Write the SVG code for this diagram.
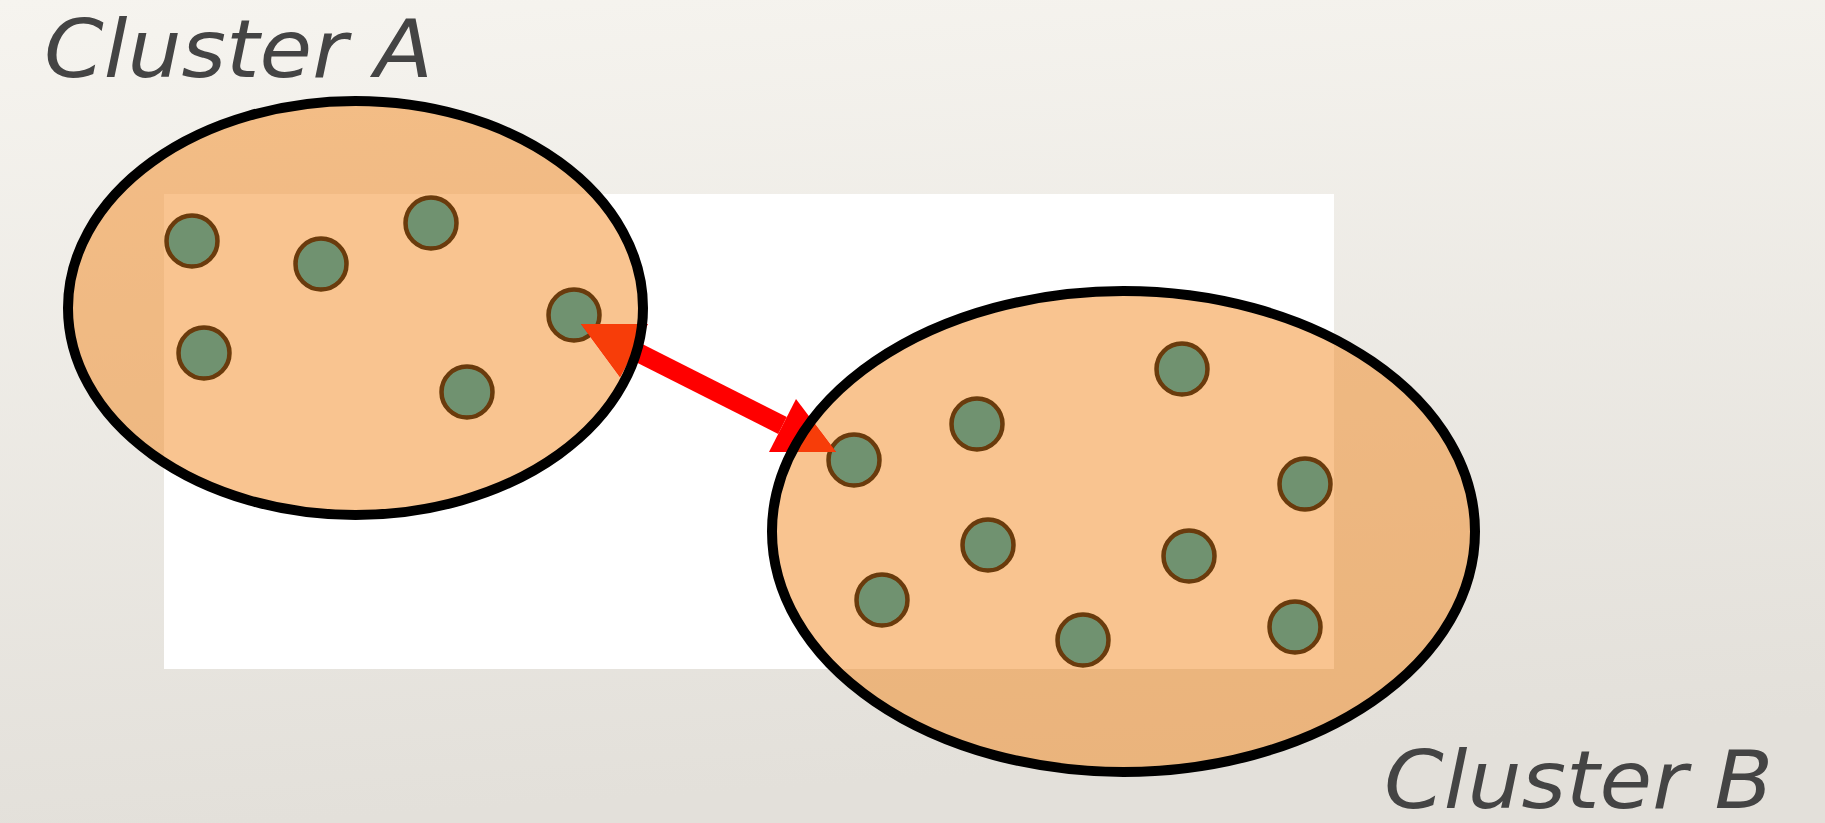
<svg xmlns="http://www.w3.org/2000/svg" width="1825" height="823" viewBox="0 0 1825 823">
  <defs>
    <linearGradient id="paper" x1="0" y1="0" x2="0.15" y2="1">
      <stop offset="0" stop-color="#F6F4EF"/>
      <stop offset="1" stop-color="#E3E0DA"/>
    </linearGradient>
    <filter id="soft" x="-20%" y="-20%" width="140%" height="140%">
      <feGaussianBlur stdDeviation="0.7"/>
    </filter>
    <clipPath id="insideA"><ellipse cx="355.5" cy="308" rx="287.5" ry="207"/></clipPath>
    <clipPath id="insideB"><ellipse cx="1123.5" cy="531.5" rx="351.5" ry="240.5"/></clipPath>
  </defs>
  <style>
    .label { font-family: "DejaVu Sans", Verdana, sans-serif; font-style: italic; font-size: 81px; fill: #444444; }
    .cfill { fill: rgb(243,130,20); fill-opacity: 0.47; stroke: none; }
    .cline { fill: none; stroke: #000000; stroke-width: 10; }
    .dot { fill: #70926F; stroke: #6A3A0A; stroke-width: 4.5; }
    .arrow-red { fill: #FF0000; }
    .arrow-tint { fill: #F73D09; }
    .shaft { stroke-width: 19; fill: none; }
  </style>

  <rect x="0" y="0" width="1825" height="823" fill="url(#paper)"/>
  <rect x="164" y="194" width="1170" height="475" fill="#FFFFFF"/>

  <g transform="translate(44,77) scale(1.055,1)">
    <text class="label" x="0" y="0">Cluster A</text>
  </g>
  <g transform="translate(1384,808) scale(1.055,1)">
    <text class="label" x="0" y="0">Cluster B</text>
  </g>

  <g id="clusterA">
    <ellipse class="cfill" cx="355.5" cy="308" rx="287.5" ry="207"/>
    <g filter="url(#soft)">
      <circle class="dot" cx="192" cy="241" r="25.5"/>
      <circle class="dot" cx="321" cy="264" r="25.5"/>
      <circle class="dot" cx="431" cy="223" r="25.5"/>
      <circle class="dot" cx="574" cy="315" r="25.5"/>
      <circle class="dot" cx="204" cy="353" r="25.5"/>
      <circle class="dot" cx="467" cy="392" r="25.5"/>
    </g>
  </g>

  <g id="clusterB">
    <ellipse class="cfill" cx="1123.5" cy="531.5" rx="351.5" ry="240.5"/>
    <g filter="url(#soft)">
      <circle class="dot" cx="1182" cy="369" r="25.5"/>
      <circle class="dot" cx="977" cy="424" r="25.5"/>
      <circle class="dot" cx="854" cy="460" r="25.5"/>
      <circle class="dot" cx="1305" cy="484" r="25.5"/>
      <circle class="dot" cx="988" cy="545" r="25.5"/>
      <circle class="dot" cx="1189" cy="556" r="25.5"/>
      <circle class="dot" cx="882" cy="600" r="25.5"/>
      <circle class="dot" cx="1083" cy="640" r="25.5"/>
      <circle class="dot" cx="1295" cy="627" r="25.5"/>
    </g>
  </g>

  <g id="connectors">
    <g class="arrow-red">
      <line class="shaft" x1="634" y1="350.5" x2="782.5" y2="425.5" stroke="#FF0000"/>
      <polygon points="581,324 648,324 620,377"/>
      <polygon points="836,452 769,452 796,399"/>
    </g>
    <g class="arrow-tint" clip-path="url(#insideA)">
      <line class="shaft" x1="634" y1="350.5" x2="782.5" y2="425.5" stroke="#F73D09"/>
      <polygon points="581,324 648,324 620,377"/>
    </g>
    <g class="arrow-tint" clip-path="url(#insideB)">
      <line class="shaft" x1="634" y1="350.5" x2="782.5" y2="425.5" stroke="#F73D09"/>
      <polygon points="836,452 769,452 796,399"/>
    </g>
  </g>

  <g id="clusterA-outline">
    <ellipse class="cline" cx="355.5" cy="308" rx="287.5" ry="207"/>
  </g>
  <g id="clusterB-outline">
    <ellipse class="cline" cx="1123.5" cy="531.5" rx="351.5" ry="240.5"/>
  </g>
</svg>
